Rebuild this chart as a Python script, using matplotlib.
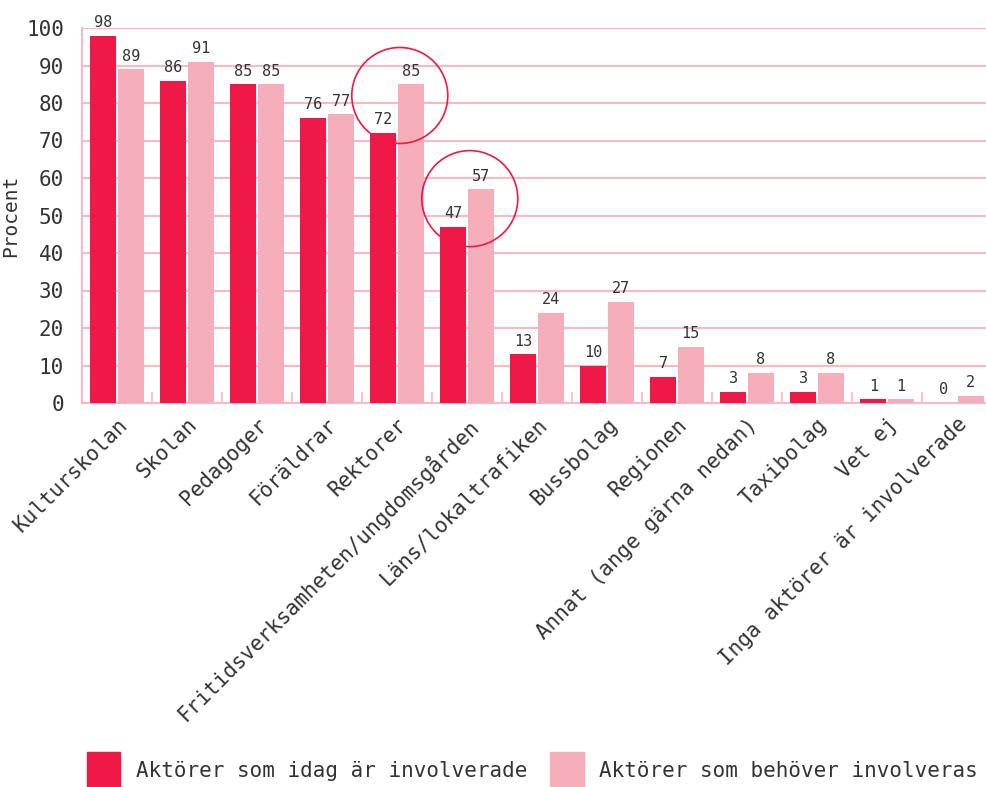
import numpy as np
import matplotlib
matplotlib.use("Agg")
import matplotlib.pyplot as plt
from matplotlib.patches import Ellipse, Patch
from matplotlib.ticker import FixedLocator

plt.rcParams['font.family'] = ['DejaVu Sans Mono', 'DejaVu Sans']

categories = ["Kulturskolan", "Skolan", "Pedagoger", "Föräldrar", "Rektorer",
              "Fritidsverksamheten/ungdomsgården", "Läns/lokaltrafiken", "Bussbolag",
              "Regionen", "Annat (ange gärna nedan)", "Taxibolag", "Vet ej",
              "Inga aktörer är involverade"]
idag = [98, 86, 85, 76, 72, 47, 13, 10, 7, 3, 3, 1, 0]
behover = [89, 91, 85, 77, 85, 57, 24, 27, 15, 8, 8, 1, 2]
series_names = ["Aktörer som idag är involverade", "Aktörer som behöver involveras"]
highlight = [4, 5]

RED = "#EE1946"
PINK = "#F6AEBA"
GRID = "#F7B9C5"
TEXT = "#333333"

fig = plt.figure(figsize=(9.86, 7.87), dpi=100)
ax = fig.add_axes([82 / 986, 384 / 787, 910 / 986, 375 / 787])

x = np.arange(len(categories))
w = 0.37
b1 = ax.bar(x - 0.195, idag, w, color=RED, zorder=3)
b2 = ax.bar(x + 0.195, behover, w, color=PINK, zorder=3)
ax.bar_label(b1, padding=4, fontsize=11, color=TEXT)
ax.bar_label(b2, padding=4, fontsize=11, color=TEXT)

ax.set_xlim(-0.5, len(categories) - 0.5)
ax.set_ylim(0, 100)
ax.set_yticks(range(0, 101, 10))
ax.grid(axis='y', color=GRID, lw=1.5, zorder=0)
ax.set_axisbelow(True)

for s in ["top", "right"]:
    ax.spines[s].set_visible(False)
for s in ["left", "bottom"]:
    ax.spines[s].set_color(GRID)
    ax.spines[s].set_linewidth(1.5)

ax.set_xticks(x)
ax.set_xticklabels(categories, rotation=45, ha='right', rotation_mode='anchor',
                   fontsize=15, color=TEXT)
ax.xaxis.set_minor_locator(FixedLocator(np.arange(-0.5, len(categories), 1)))
ax.tick_params(axis='x', which='major', length=0, pad=8)
ax.tick_params(axis='x', which='minor', direction='in', length=8, color=GRID, width=1.2)
ax.tick_params(axis='y', length=0, pad=13, labelsize=15, labelcolor=TEXT)
ax.set_ylabel("Procent", fontsize=14, color=TEXT)
ax.yaxis.set_label_coords(-0.068, 0.5)

# circles around highlighted groups (radius ~48 px)
px_x = 910 / len(categories)
px_y = 375 / 100
r = 48
for i in highlight:
    cy = (idag[i] + behover[i]) / 2 + 3.5 if i == 4 else (idag[i] + behover[i]) / 2 + 2.5
    ax.add_patch(Ellipse((i + 0.04, cy), 2 * r / px_x, 2 * r / px_y, fill=False,
                         ec=RED, lw=1.2, zorder=5, clip_on=False))

handles = [Patch(color=RED), Patch(color=PINK)]
fig.legend(handles, series_names, loc='upper left', bbox_to_anchor=(87 / 986, 35 / 787),
           ncol=2, frameon=False, fontsize=15, handlelength=1.6, handleheight=2.3,
           handletextpad=0.75, columnspacing=1.1, borderpad=0, borderaxespad=0,
           labelcolor=TEXT)

fig.savefig("out.png", dpi=100)
